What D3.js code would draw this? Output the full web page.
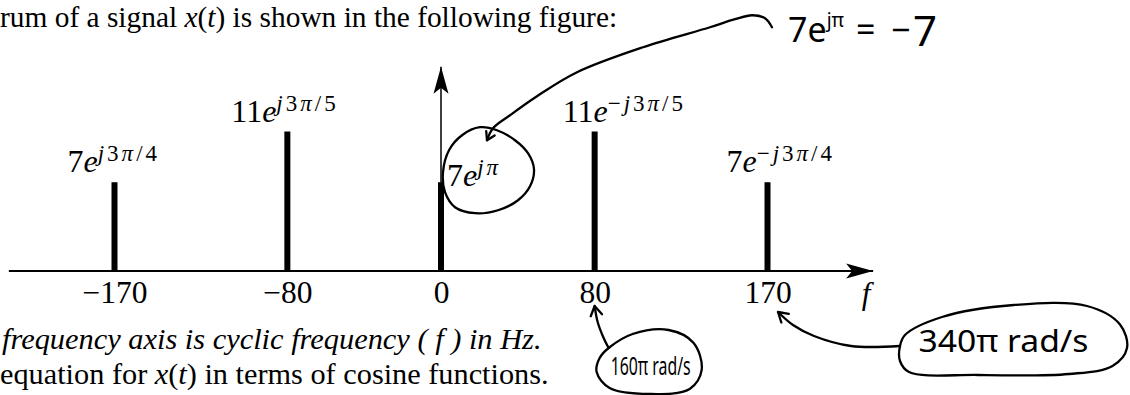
<!DOCTYPE html>
<html>
<head>
<meta charset="utf-8">
<script src="https://cdn.jsdelivr.net/npm/d3@7"></script>
<style>
  body { margin: 0; background: #fff; }
  svg { display: block; }
  text { white-space: pre; }
</style>
</head>
<body>
<div id="chart"></div>
<script>
// Two-sided line spectrum of x(t)
const freqs = [-170, -80, 0, 80, 170];
const mags = [7, 11, 7, 11, 7];
const coefLabels = ["7", "11", "7", "11", "7"];
const phaseLabels = ["j3π/4", "j3π/5", "jπ", "−j3π/5", "−j3π/4"];
const tickValues = [-170, -80, 0, 80, 170];

// Handwritten notes: radian frequency under two of the ticks
const noteFreqs = [80, 170];
const noteLabels = ["160π rad/s", "340π rad/s"];

const W = 1130, H = 395;
const serif = '"Liberation Serif", "Times New Roman", serif';
const handFont = '"Noto Sans", "DejaVu Sans", sans-serif';

// label placement relative to the top of each stem
const labelDx = [-47, -56, 6, -32, -41];
const labelDy = [-10, -10, 4, -10, -10];

const x = d3.scaleLinear().domain([-170, 170]).range([114.5, 767.5]);
const y = d3.scaleLinear().domain([0, 11]).range([271, 131.5]);

const svg = d3.select("#chart").append("svg")
    .attr("width", W)
    .attr("height", H);

// Arrowhead shared by both axes
svg.append("defs").append("marker")
    .attr("id", "axisArrow")
    .attr("markerUnits", "userSpaceOnUse")
    .attr("viewBox", "-28 -8 29 16")
    .attr("refX", 0).attr("refY", 0)
    .attr("markerWidth", 29).attr("markerHeight", 16)
    .attr("orient", "auto")
    .append("path")
    .attr("d", "M0,0 L-27,-7.5 L-21,0 L-27,7.5 Z")
    .attr("fill", "#000");

// Text above and below the figure
const topLine = svg.append("text")
    .attr("x", 0).attr("y", 27)
    .style("font-family", serif).style("font-size", "29.4px");
topLine.append("tspan").text("rum of a signal ");
topLine.append("tspan").style("font-style", "italic").text("x");
topLine.append("tspan").text("(");
topLine.append("tspan").style("font-style", "italic").text("t");
topLine.append("tspan").text(") is shown in the following figure:");

svg.append("text")
    .attr("x", 2).attr("y", 349)
    .style("font-family", serif).style("font-size", "30.4px")
    .style("font-style", "italic")
    .text("frequency axis is cyclic frequency ( f ) in Hz.");

const cap2 = svg.append("text")
    .attr("x", 0).attr("y", 384)
    .style("font-family", serif).style("font-size", "30.3px");
cap2.append("tspan").text("equation for ");
cap2.append("tspan").style("font-style", "italic").text("x");
cap2.append("tspan").text("(");
cap2.append("tspan").style("font-style", "italic").text("t");
cap2.append("tspan").text(") in terms of cosine functions.");

// Axes (drawn past the data range, ending in arrows)
const fMin = -225, fMax = 225, vMax = 16.1;

svg.append("line")
    .attr("x1", x(fMin)).attr("x2", x(fMax))
    .attr("y1", y(0)).attr("y2", y(0))
    .attr("stroke", "#000").attr("stroke-width", 2)
    .attr("marker-end", "url(#axisArrow)");

svg.append("line")
    .attr("x1", x(0)).attr("x2", x(0))
    .attr("y1", y(0)).attr("y2", y(vMax))
    .attr("stroke", "#000").attr("stroke-width", 1.5)
    .attr("marker-end", "url(#axisArrow)");

const xAxis = svg.append("g")
    .attr("transform", `translate(0,${y(0)})`)
    .call(d3.axisBottom(x).tickValues(tickValues).tickSize(0).tickPadding(10).tickFormat(d3.format("d")));
xAxis.select(".domain").remove();
xAxis.selectAll("text")
    .style("font-family", serif)
    .style("font-size", "31.5px")
    .attr("fill", "#000");

svg.append("text")
    .attr("x", x(fMax) - 7).attr("y", 304)
    .attr("text-anchor", "middle")
    .style("font-family", serif).style("font-size", "31px")
    .style("font-style", "italic")
    .text("f");

// Spectral lines
svg.append("g")
    .selectAll("line")
    .data(freqs)
    .join("line")
    .attr("x1", d => x(d)).attr("x2", d => x(d))
    .attr("y1", y(0))
    .attr("y2", (d, i) => y(mags[i]))
    .attr("stroke", "#000")
    .attr("stroke-width", 6);

// Complex amplitude labels, e.g. 7e^{j3π/4}
const labels = svg.append("g")
    .selectAll("text")
    .data(freqs)
    .join("text")
    .attr("x", (d, i) => x(d) + labelDx[i])
    .attr("y", (d, i) => y(mags[i]) + labelDy[i])
    .style("font-family", serif)
    .style("font-size", "32px");

labels.each(function(d, i) {
    const t = d3.select(this);
    t.append("tspan").text(coefLabels[i]);
    t.append("tspan").style("font-style", "italic").text("e");
    [...phaseLabels[i]].forEach((ch, k) => {
        const s = t.append("tspan")
            .style("font-size", "23px")
            .style("letter-spacing", "3px")
            .style("font-style", (ch === "j" || ch === "π") ? "italic" : "normal")
            .text(ch);
        if (k === 0) s.attr("dy", -11);
    });
});

// Handwritten annotations, anchored to data points
const hand = svg.append("g")
    .attr("fill", "none")
    .attr("stroke", "#000")
    .attr("stroke-width", 2.3)
    .attr("stroke-linecap", "round")
    .attr("stroke-linejoin", "round");

const openCurve = d3.line().curve(d3.curveCatmullRom);
const closedCurve = d3.line().curve(d3.curveCatmullRomClosed);
const shift = (pts, ox, oy) => pts.map(p => [p[0] + ox, p[1] + oy]);

function barbs(tip, from, len = 10, ang = 0.55) {
    const a = Math.atan2(from[1] - tip[1], from[0] - tip[0]);
    const w1 = [tip[0] + len * Math.cos(a + ang), tip[1] + len * Math.sin(a + ang)];
    const w2 = [tip[0] + len * Math.cos(a - ang), tip[1] + len * Math.sin(a - ang)];
    return `M${w1}L${tip}L${w2}`;
}

// loop around the 7e^{jπ} label and the arrow to the note at top right
const ox0 = x(0), oy0 = y(7);
const loop = [[56, -52], [74, -42], [87, -29], [93, -13], [89, 4], [77, 18], [57, 28],
              [34, 31], [14, 25], [4, 10], [2, -10], [8, -32], [21, -47], [39, -55]];
hand.append("path").attr("d", closedCurve(shift(loop, ox0, oy0)));

const longArrow = shift([[331, -155], [324, -164], [311, -167], [294, -163], [269, -155],
                         [202, -135], [136, -110], [96, -86], [69, -67], [52, -54], [46, -42]], ox0, oy0);
hand.append("path").attr("d", openCurve(longArrow));
hand.append("path").attr("d", barbs(longArrow[longArrow.length - 1], longArrow[longArrow.length - 2], 9));

const note0 = svg.append("text")
    .attr("y", oy0 - 140)
    .style("font-family", handFont)
    .attr("fill", "#000");
note0.append("tspan").attr("x", ox0 + 347).style("font-size", "34px").text("7e");
note0.append("tspan").attr("dy", -15).style("font-size", "19px").text("jπ");
note0.append("tspan").attr("x", ox0 + 415).attr("dy", 15).style("font-size", "34px").text("=");
note0.append("tspan").attr("x", ox0 + 450).style("font-size", "34px").text("−");
note0.append("tspan").attr("x", ox0 + 472).attr("dy", 4).style("font-size", "42px").text("7");

// bubbles under the ticks
const bubbles = [
    {
        outline: [[14, 77], [38, 63], [74, 59], [99, 72], [107, 99], [95, 118], [55, 123],
                  [15, 117], [2, 101], [5, 87]],
        arrow: [[14, 77], [9, 67], [3, 51], [0, 35]],
        text: [56, 104], textLen: 80, size: 26
    },
    {
        outline: [[132.5, 75], [137.5, 64], [174.5, 46], [246.5, 34], [319.5, 35], [352.5, 53.5],
                  [359.5, 77], [345, 95], [301.5, 103], [210.5, 104], [141.5, 101], [132.5, 90]],
        arrow: [[132.5, 75], [83.5, 75], [46.5, 65], [25.5, 54], [10.5, 41]],
        text: [236, 81], textLen: 170, size: 30
    }
];

bubbles.forEach((b, i) => {
    const ox = x(noteFreqs[i]), oy = y(0);
    hand.append("path").attr("d", closedCurve(shift(b.outline, ox, oy)));
    const arr = shift(b.arrow, ox, oy);
    hand.append("path").attr("d", openCurve(arr));
    hand.append("path").attr("d", barbs(arr[arr.length - 1], arr[arr.length - 2], 11));
    svg.append("text")
        .attr("x", ox + b.text[0]).attr("y", oy + b.text[1])
        .attr("text-anchor", "middle")
        .attr("textLength", b.textLen)
        .attr("lengthAdjust", "spacingAndGlyphs")
        .style("font-family", handFont)
        .style("font-size", b.size + "px")
        .attr("fill", "#000")
        .text(noteLabels[i]);
});
</script>
</body>
</html>
